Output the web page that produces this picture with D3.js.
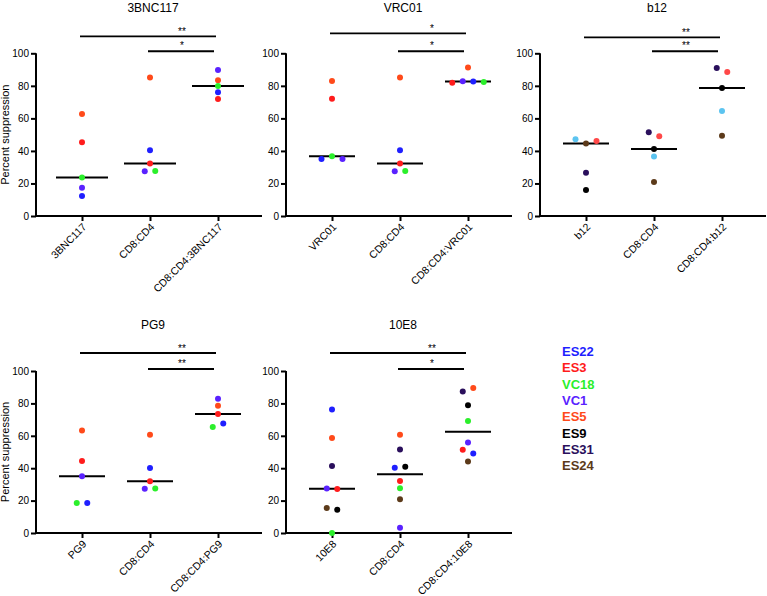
<!DOCTYPE html>
<html><head><meta charset="utf-8">
<script src="https://cdn.jsdelivr.net/npm/d3@7"></script>
<style>body{margin:0;background:#fff}svg{display:block}text{font-family:Arial,"Liberation Sans",sans-serif}</style>
</head><body>
<script>
// ---- data ----
const legendDonors = ["ES22","ES3","VC18","VC1","ES5","ES9","ES31","ES24"];
const colorKeys = ["ES22","ES3","VC18","VC1","ES5","ES9","ES31","ES24","LB","CR"];
const colorVals = ["#1f1fff","#ff1c1c","#2bef2b","#5a22ff","#ff4a1a","#000000","#2a0f5c","#5c3a1a","#5cc4f0","#ff4848"];
const yTicks = [0,20,40,60,80,100];

const titles = ["3BNC117","VRC01","b12","PG9","10E8"];
const cats3BNC117 = ["3BNC117","CD8:CD4","CD8:CD4:3BNC117"];
const catsVRC01 = ["VRC01","CD8:CD4","CD8:CD4:VRC01"];
const catsB12 = ["b12","CD8:CD4","CD8:CD4:b12"];
const catsPG9 = ["PG9","CD8:CD4","CD8:CD4:PG9"];
const cats10E8 = ["10E8","CD8:CD4","CD8:CD4:10E8"];

const donors3BNC117 = [["ES5","ES3","VC18","VC1","ES22"],["ES5","ES22","ES3","VC1","VC18"],["VC1","ES5","VC18","ES22","ES3"]];
const values3BNC117 = [[62.7,45.3,23.6,17.4,12.3],[85.2,40.4,32.2,27.5,27.7],[89.8,83.4,79.9,76.0,71.9]];
const donorsVRC01 = [["ES5","ES3","ES22","VC18","VC1"],["ES5","ES22","ES3","VC1","VC18"],["ES5","ES3","VC1","ES22","VC18"]];
const valuesVRC01 = [[83.0,72.1,35.0,36.7,35.0],[85.2,40.4,32.2,27.5,27.7],[91.2,81.9,82.8,82.6,82.3]];
const donorsB12 = [["LB","ES24","CR","ES31","ES9"],["ES31","CR","ES9","LB","ES24"],["ES31","CR","ES9","LB","ES24"]];
const valuesB12 = [[47.1,44.5,46.1,26.6,16.0],[51.4,49.0,41.2,36.5,20.9],[91.0,88.5,78.7,64.5,49.4]];
const donorsPG9 = [["ES5","ES3","VC1","VC18","ES22"],["ES5","ES22","ES3","VC1","VC18"],["VC1","ES5","ES3","VC18","ES22"]];
const valuesPG9 = [[63.2,44.4,35.1,18.5,18.5],[60.6,40.2,32.0,27.3,27.5],[82.8,78.6,73.5,65.5,67.6]];
const donors10E8 = [["ES22","ES5","ES31","VC1","ES3","ES24","ES9","VC18"],["ES5","ES31","ES22","ES9","ES3","VC18","ES24","VC1"],["ES31","ES5","ES9","VC18","VC1","ES3","ES22","ES24"]];
const values10E8 = [[76.3,58.6,41.4,27.4,27.2,15.4,14.4,0],[60.7,51.6,40.3,40.9,32.1,27.6,20.8,3.3],[87.4,89.5,78.8,69.1,55.8,51.4,49.0,44.2]];

const sigLong = ["**","*","**","**","**"];
const sigShort = ["*","*","**","**","*"];

// ---- layout ----
const W = 767, H = 596;
const svg = d3.select("body").append("svg").attr("width", W).attr("height", H);
const color = d3.scaleOrdinal().domain(colorKeys).range(colorVals);

const panels = [
  {ax:36, y0:216, y1:53.3, cats:cats3BNC117, donors:donors3BNC117, values:values3BNC117, ylab:true, longOff:17, med:26, titleY:12},
  {ax:286, y0:216, y1:53.3, cats:catsVRC01, donors:donorsVRC01, values:valuesVRC01, ylab:false, longOff:20, med:23, titleY:12},
  {ax:540, y0:216, y1:53.3, cats:catsB12, donors:donorsB12, values:valuesB12, ylab:false, longOff:16, med:23, titleY:12},
  {ax:36, y0:533, y1:371, cats:catsPG9, donors:donorsPG9, values:valuesPG9, ylab:true, longOff:18, med:23, titleY:329},
  {ax:286, y0:533, y1:371, cats:cats10E8, donors:donors10E8, values:values10E8, ylab:false, longOff:18, med:23, titleY:329}
];

panels.forEach((p, i) => {
  const g = svg.append("g");
  const x = d3.scalePoint().domain(p.cats).range([p.ax + 46, p.ax + 182]);
  const y = d3.scaleLinear().domain([0, 100]).range([p.y0, p.y1]);

  // title
  g.append("text").attr("x", x(p.cats[1]) + 3).attr("y", p.titleY)
    .attr("text-anchor", "middle").attr("font-size", 12).attr("fill", "#000").text(titles[i]);

  // y axis
  const ya = g.append("g").attr("transform", `translate(${p.ax},0)`)
    .call(d3.axisLeft(y).tickValues(yTicks).tickSize(5).tickPadding(2));
  ya.select(".domain").remove();
  ya.selectAll(".tick line").attr("stroke", "#000").attr("stroke-width", 2);
  ya.selectAll(".tick text").attr("font-size", 10).attr("fill", "#000").attr("font-family", "Arial, 'Liberation Sans', sans-serif");
  g.append("line").attr("x1", p.ax).attr("x2", p.ax).attr("y1", p.y0 + 1).attr("y2", p.y1)
    .attr("stroke", "#000").attr("stroke-width", 2);

  // x axis
  const xa = g.append("g").attr("transform", `translate(0,${p.y0})`)
    .call(d3.axisBottom(x).tickSize(5).tickPadding(0));
  xa.select(".domain").remove();
  xa.selectAll(".tick line").attr("stroke", "#000").attr("stroke-width", 2);
  xa.selectAll(".tick text").attr("font-size", 10.5).attr("fill", "#000")
    .attr("font-family", "Arial, 'Liberation Sans', sans-serif")
    .attr("text-anchor", "end").attr("dy", "0.35em")
    .attr("transform", "translate(2,9) rotate(-45)").attr("y", 0);
  g.append("line").attr("x1", p.ax - 1).attr("x2", p.ax + 226).attr("y1", p.y0).attr("y2", p.y0)
    .attr("stroke", "#000").attr("stroke-width", 2);

  // y label
  if (p.ylab) {
    g.append("text").attr("transform", `translate(9,${(p.y0 + p.y1) / 2}) rotate(-90)`)
      .attr("text-anchor", "middle").attr("font-size", 11).attr("fill", "#000").text("Percent suppression");
  }

  // significance bars
  const yl = p.y1 - p.longOff, ys = p.y1 - 2;
  g.append("line").attr("x1", x(p.cats[0]) - 2).attr("x2", x(p.cats[2]) - 2).attr("y1", yl).attr("y2", yl)
    .attr("stroke", "#000").attr("stroke-width", 1.8);
  g.append("line").attr("x1", x(p.cats[1]) - 2).attr("x2", x(p.cats[2]) - 4).attr("y1", ys).attr("y2", ys)
    .attr("stroke", "#000").attr("stroke-width", 2);
  const sx = (x(p.cats[1]) + x(p.cats[2])) / 2 - 2;
  g.append("text").attr("x", sx).attr("y", yl - 1.5).attr("text-anchor", "middle").attr("font-size", 10).attr("fill", "#000").text(sigLong[i]);
  g.append("text").attr("x", sx).attr("y", ys - 2).attr("text-anchor", "middle").attr("font-size", 10).attr("fill", "#000").text(sigShort[i]);

  // points
  p.cats.forEach((c, ci) => {
    const vals = p.values[ci], dons = p.donors[ci];
    const pts = vals.map((v, k) => ({v, d: dons[k], k, py: y(v), off: 0}));
    const sorted = pts.slice().sort((a, b) => a.py - b.py);
    const clusters = [];
    sorted.forEach(pt => {
      const last = clusters[clusters.length - 1];
      if (last && Math.abs(pt.py - last[last.length - 1].py) < 5) last.push(pt);
      else clusters.push([pt]);
    });
    clusters.forEach(cl => {
      cl.sort((a, b) => a.k - b.k);
      cl.forEach((pt, j) => { pt.off = (j - (cl.length - 1) / 2) * 10.5; });
    });
    const med = d3.median(vals);
    g.append("line").attr("x1", x(c) - p.med).attr("x2", x(c) + p.med)
      .attr("y1", y(med)).attr("y2", y(med)).attr("stroke", "#000").attr("stroke-width", 2);
    g.selectAll(null).data(pts).join("circle")
      .attr("cx", d => x(c) + d.off).attr("cy", d => d.py).attr("r", 3)
      .attr("fill", d => color(d.d));
  });
});

// legend
const lg = svg.append("g");
lg.selectAll("text").data(legendDonors).join("text")
  .attr("x", 562).attr("y", (d, i) => 356 + i * 16.35)
  .attr("font-size", 13).attr("font-weight", "bold")
  .attr("fill", d => color(d)).text(d => d);
</script>
</body></html>
